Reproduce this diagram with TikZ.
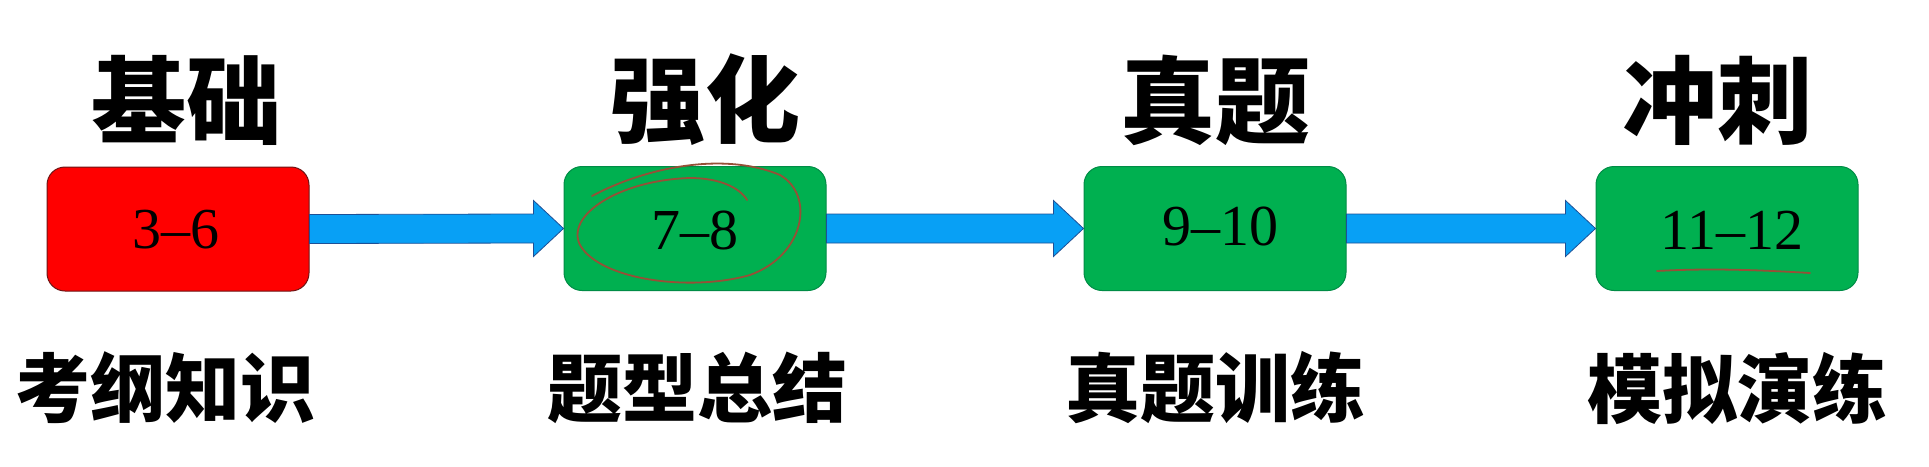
\documentclass[tikz,border=0pt]{standalone}
\usepackage{fontspec}
\newfontfamily\cjk{Noto Sans CJK SC}
\newfontfamily\numfont{Liberation Serif}
\usetikzlibrary{calc}
\definecolor{boxred}{RGB}{255,0,0}
\definecolor{boxredline}{RGB}{110,20,20}
\definecolor{boxgreen}{RGB}{0,176,80}
\definecolor{boxgreenline}{RGB}{0,140,70}
\definecolor{arrowblue}{RGB}{8,160,245}
\definecolor{arrowline}{RGB}{30,80,150}
\definecolor{pen}{RGB}{150,80,55}
\tikzset{
  stagebox/.style={rounded corners=18pt, minimum width=262pt, minimum height=124pt, line width=1pt, inner sep=0pt},
  redbox/.style={stagebox, fill=boxred, draw=boxredline},
  greenbox/.style={stagebox, fill=boxgreen, draw=boxgreenline},
  numtext/.style={font=\numfont\fontsize{58}{58}\selectfont, text=black},
  titletext/.style={font=\cjk\bfseries\fontsize{95}{95}\selectfont, inner sep=0pt},
  labeltext/.style={font=\cjk\bfseries\fontsize{75}{75}\selectfont, inner sep=0pt},
  blockarrow/.style={fill=arrowblue, draw=arrowline, line width=0.8pt, line join=miter},
  penline/.style={draw=pen, line width=1.8pt, line cap=round}
}
\newcommand{\blockarr}[2]{%
  \path[blockarrow] ($(#1.east)+(0,14.5pt)$) -- ($(#2.west)+(-30pt,14.5pt)$) -- ($(#2.west)+(-30pt,28pt)$)
    -- (#2.west) -- ($(#2.west)+(-30pt,-28pt)$) -- ($(#2.west)+(-30pt,-14.5pt)$) -- ($(#1.east)+(0,-14.5pt)$) -- cycle;}
\begin{document}
\begin{tikzpicture}[x=1pt,y=1pt]
\useasboundingbox[fill=white] (0,0) rectangle (1929,-466);
% boxes
\node[redbox] (b1) at (178,-229) {};
\node[greenbox] (b2) at (695,-228.5) {};
\node[greenbox] (b3) at (1215,-228.5) {};
\node[greenbox] (b4) at (1727,-228.5) {};
% arrows
\blockarr{b1}{b2}
\blockarr{b2}{b3}
\blockarr{b3}{b4}
% numbers
\node[numtext] (n1) at (176,-230) {3–6};
\node[numtext] (n2) at (695,-230) {7–8};
\node[numtext] (n3) at (1220,-226) {9–10};
\node[numtext] (n4) at (1732,-230) {11–12};
% titles
\node[titletext] (t1) at (186,-100) {基础};
\node[titletext] (t2) at (705,-100) {强化};
\node[titletext] (t3) at (1215,-100) {真题};
\node[titletext] (t4) at (1717,-100) {冲刺};
% labels
\node[labeltext] (l1) at (165,-388) {考纲知识};
\node[labeltext] (l2) at (697,-388) {题型总结};
\node[labeltext] (l3) at (1215,-388) {真题训练};
\node[labeltext] (l4) at (1737,-388) {模拟演练};
% hand-drawn marks
\draw[penline] (592,-196) .. controls (640,-170) and (720,-150) .. (780,-175)
  .. controls (815,-195) and (805,-255) .. (750,-275)
  .. controls (690,-292) and (600,-280) .. (580,-245)
  .. controls (565,-215) and (620,-180) .. (690,-178)
  .. controls (720,-178) and (740,-188) .. (747,-200);
\draw[penline] (1657,-271) .. controls (1710,-268) and (1760,-270) .. (1810,-273);
\end{tikzpicture}
\end{document}
